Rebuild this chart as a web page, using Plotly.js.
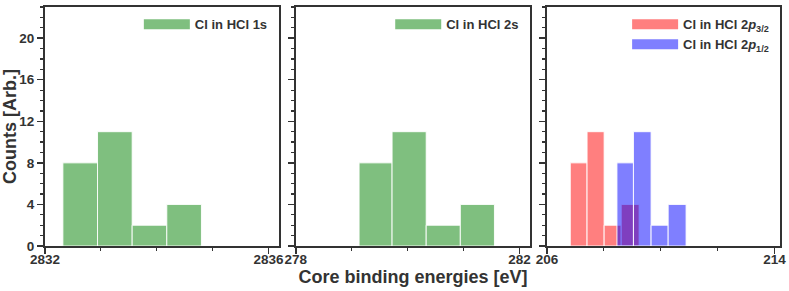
<!DOCTYPE html>
<html>
<head>
<meta charset="utf-8">
<script src="https://cdn.plot.ly/plotly-3.0.1.min.js"></script>
<style>html,body{margin:0;padding:0;background:#fff;}#chart{width:789px;height:291px;}</style>
</head>
<body>
<div id="chart"></div>
<script>
// ---- data (bin edges and counts) ----
const edges1s = [2832.32, 2832.94, 2833.56, 2834.18, 2834.80];
const counts1s = [8, 11, 2, 4];
const edges2s = [279.13, 279.72, 280.33, 280.94, 281.55];
const counts2s = [8, 11, 2, 4];
const edges2p32 = [206.82, 207.41, 208.01, 208.61, 209.24];
const counts2p32 = [8, 11, 2, 4];
const edges2p12 = [208.46, 209.04, 209.66, 210.26, 210.89];
const counts2p12 = [8, 11, 2, 4];
const names = ['Cl in HCl 1s', 'Cl in HCl 2s', 'Cl in HCl 2<i>p</i><sub>3/2</sub>', 'Cl in HCl 2<i>p</i><sub>1/2</sub>'];
const xTicks1 = [2832, 2836];
const xTicks2 = [278, 282];
const xTicks3 = [206, 214];
const yTicks = [0, 4, 8, 12, 16, 20];
const xTitle = 'Core binding energies [eV]';
const yTitle = 'Counts [Arb.]';

const FONT = 'Liberation Sans, Arial, Helvetica, sans-serif';
const INK = '#333333';
const COLORS = ['rgba(0,128,0,0.5)', 'rgba(0,128,0,0.5)', 'rgba(255,0,0,0.5)', 'rgba(0,0,255,0.5)'];

function hist(edges, counts, color, xa, ya) {
  const widths = counts.map((_, i) => edges[i + 1] - edges[i]);
  return {
    type: 'bar', x: edges.slice(0, counts.length), y: counts, width: widths, offset: 0,
    xaxis: xa, yaxis: ya, showlegend: false,
    marker: {color: color, line: {color: 'rgba(255,255,255,0.9)', width: 1}},
    hoverinfo: 'x+y'
  };
}
// legend entries drawn as wide patches (matplotlib-style legend handles)
function legendEntry(name, color, xa, ya, leg) {
  return {type: 'scatter', mode: 'lines', x: [null], y: [null], xaxis: xa, yaxis: ya,
          name: '<b>' + name + '</b>', legend: leg, showlegend: true,
          line: {color: color, width: 10}, hoverinfo: 'skip'};
}

const traces = [
  hist(edges1s, counts1s, COLORS[0], 'x', 'y'),
  hist(edges2s, counts2s, COLORS[1], 'x2', 'y2'),
  hist(edges2p32, counts2p32, COLORS[2], 'x3', 'y3'),
  hist(edges2p12, counts2p12, COLORS[3], 'x3', 'y3'),
  legendEntry(names[0], COLORS[0], 'x', 'y', 'legend'),
  legendEntry(names[1], COLORS[1], 'x2', 'y2', 'legend2'),
  legendEntry(names[2], COLORS[2], 'x3', 'y3', 'legend3'),
  legendEntry(names[3], COLORS[3], 'x3', 'y3', 'legend3')
];

const tickFont = () => ({family: FONT, size: 13.5, color: INK, weight: 'bold'});
const bold = v => '<b>' + v + '</b>';
function xax(dom, range, vals, mdt, extra) {
  return Object.assign({
    domain: dom, range: range, tickmode: 'array', tickvals: vals, ticktext: vals.map(bold),
    showline: true, mirror: true, linecolor: INK, linewidth: 2,
    ticks: 'outside', ticklen: 6, tickwidth: 1.5, tickcolor: INK,
    minor: {tickmode: 'linear', tick0: range[0], dtick: mdt, ticks: 'outside', ticklen: 3, tickwidth: 1.2, tickcolor: INK},
    ticklabelstandoff: -6,
    showgrid: false, zeroline: false, tickfont: tickFont(), fixedrange: true, automargin: false
  }, extra || {});
}
function yax(anchor, showLabels, extra) {
  return Object.assign({
    anchor: anchor, range: [0, 23], tickmode: 'array', tickvals: yTicks, ticktext: yTicks.map(bold),
    showline: true, mirror: true, linecolor: INK, linewidth: 2,
    ticks: 'outside', ticklen: 6, tickwidth: 1.5, tickcolor: INK,
    minor: {tickmode: 'linear', tick0: 0, dtick: 1, ticks: 'outside', ticklen: 3, tickwidth: 1.2, tickcolor: INK},
    showgrid: false, zeroline: false, tickfont: tickFont(), showticklabels: showLabels, fixedrange: true, automargin: false
  }, extra || {});
}

function leg(x, y) {
  return {x: x, y: y, xanchor: 'right', yanchor: 'top', bgcolor: 'rgba(0,0,0,0)',
          font: {family: FONT, size: 13, color: INK, weight: 'bold'}, tracegroupgap: 0, itemwidth: 46};
}
const titleFont = () => ({family: FONT, size: 18, color: INK, weight: 'bold'});

const layout = {
  width: 789, height: 291,
  margin: {l: 45, r: 9, t: 7, b: 45},
  paper_bgcolor: '#ffffff', plot_bgcolor: '#ffffff',
  barmode: 'overlay',
  font: {family: FONT, color: INK},
  xaxis: xax([0, 0.3185], [2832, 2836.19], xTicks1, 1, {anchor: 'y'}),
  xaxis2: xax([0.3413, 0.6602], [278, 282.19], xTicks2, 1, {anchor: 'y2',
    title: {text: bold(xTitle), font: titleFont(), standoff: 0}}),
  xaxis3: xax([0.6829, 1.0], [206, 214.19], xTicks3, 2, {anchor: 'y3'}),
  yaxis: yax('x', true, {title: {text: bold(yTitle), font: titleFont(), standoff: 4}}),
  yaxis2: yax('x2', false, {matches: 'y'}),
  yaxis3: yax('x3', false, {matches: 'y'}),
  legend: leg(0.31, 0.99),
  legend2: leg(0.652, 0.99),
  legend3: leg(0.992, 0.99),
  showlegend: true
};

Plotly.newPlot('chart', traces, layout, {displayModeBar: false, staticPlot: true});
</script>
</body>
</html>
